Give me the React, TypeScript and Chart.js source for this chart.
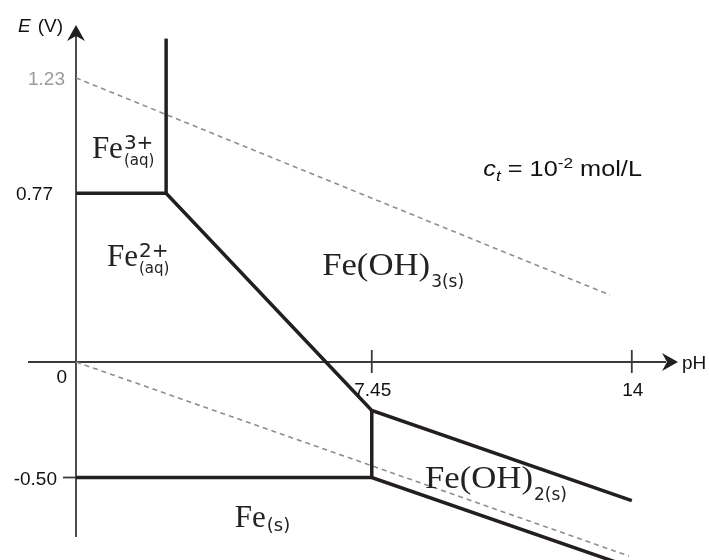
import React, { useEffect, useRef } from "react";
import { Chart, registerables } from "chart.js";

Chart.register(...registerables);

// ---- tick values and labels ----
const PH_TICKS = [7.45, 14];
const PH_TICK_LABELS = ["7.45", "14"];
const E_TICKS = [1.23, 0.73, 0, -0.5];
const E_TICK_LABELS = ["1.23", "0.77", "0", "-0.50"];

// ---- boundary lines (pH, E in V) ----
const UPPER_PH = [0, 2.27, 7.45, 14];
const UPPER_E = [0.73, 0.73, -0.21, -0.6];
const LOWER_PH = [0, 7.45, 14];
const LOWER_E = [-0.5, -0.5, -0.89];
const FE3_VERTICAL_PH = [2.27, 2.27];
const FE3_VERTICAL_E = [0.73, 1.4];
const FEOH2_VERTICAL_PH = [7.45, 7.45];
const FEOH2_VERTICAL_E = [-0.21, -0.5];

// ---- water stability lines ----
const WATER_O2_PH = [0, 13.45];
const WATER_O2_E = [1.23, 0.29];
const WATER_H2_PH = [0, 13.93];
const WATER_H2_E = [0, -0.84];

// ---- species labels ----
const SPECIES_MAIN = ["Fe", "Fe", "Fe(OH)", "Fe(OH)", "Fe"];
const SPECIES_SUP = ["3+", "2+", "", "", ""];
const SPECIES_SUB = ["(aq)", "(aq)", "3(s)", "2(s)", "(s)"];
const SPECIES_PH = [0.4, 0.78, 6.2, 8.79, 4.0];
const SPECIES_E = [0.883, 0.416, 0.377, -0.545, -0.714];

const CONC_PH = 10.26;
const CONC_E = 0.805;

// ---- layout ----
const W = 709;
const H = 560;
const PX_PER_PH = 39.7;
const PX_PER_V = 231;
const ORIGIN_X = 76;
const ORIGIN_Y = 362;
const X_MIN = -ORIGIN_X / PX_PER_PH;
const X_MAX = (W - ORIGIN_X) / PX_PER_PH;
const Y_MAX = ORIGIN_Y / PX_PER_V;
const Y_MIN = (ORIGIN_Y - H) / PX_PER_V;

const INK = "#231f20";
const AXIS = "#3a3a3a";
const DASH = "#8e8e8e";

function pts(xs: number[], ys: number[]) {
  return xs.map((x, i) => ({ x, y: ys[i] }));
}

function drawText(
  ctx: CanvasRenderingContext2D,
  s: string,
  x: number,
  y: number,
  font: string,
  color: string,
  align: "left" | "right" | "center" = "left",
  sx = 1
): number {
  ctx.save();
  ctx.font = font;
  ctx.fillStyle = color;
  ctx.textBaseline = "alphabetic";
  ctx.textAlign = "left";
  const w = ctx.measureText(s).width * sx;
  const left = align === "left" ? x : align === "right" ? x - w : x - w / 2;
  ctx.translate(left, y);
  ctx.scale(sx, 1);
  ctx.fillText(s, 0, 0);
  ctx.restore();
  return left + w;
}

function arrow(
  ctx: CanvasRenderingContext2D,
  tx: number,
  ty: number,
  dx: number,
  dy: number
) {
  const len = 16;
  const half = 9;
  const notch = 11;
  const px = -dy;
  const py = dx;
  ctx.save();
  ctx.fillStyle = INK;
  ctx.beginPath();
  ctx.moveTo(tx, ty);
  ctx.lineTo(tx - dx * len + px * half, ty - dy * len + py * half);
  ctx.lineTo(tx - dx * notch, ty - dy * notch);
  ctx.lineTo(tx - dx * len - px * half, ty - dy * len - py * half);
  ctx.closePath();
  ctx.fill();
  ctx.restore();
}

const decorPlugin = {
  id: "pourbaixDecor",
  beforeDatasetsDraw(chart: any) {
    const ctx: CanvasRenderingContext2D = chart.ctx;
    const xs = chart.scales.x;
    const ys = chart.scales.y;
    const x0 = xs.getPixelForValue(0);
    const y0 = ys.getPixelForValue(0);
    ctx.save();
    ctx.strokeStyle = AXIS;
    ctx.lineWidth = 1.8;
    ctx.beginPath();
    ctx.moveTo(28, y0);
    ctx.lineTo(666, y0);
    ctx.stroke();
    ctx.beginPath();
    ctx.moveTo(x0, 537);
    ctx.lineTo(x0, 36);
    ctx.stroke();
    PH_TICKS.forEach((v) => {
      const px = xs.getPixelForValue(v);
      ctx.beginPath();
      ctx.moveTo(px, y0 - 12);
      ctx.lineTo(px, y0 + 11);
      ctx.stroke();
    });
    const ym = ys.getPixelForValue(-0.5);
    ctx.beginPath();
    ctx.moveTo(x0 - 13, ym);
    ctx.lineTo(x0, ym);
    ctx.stroke();
    ctx.restore();

    arrow(ctx, 678, y0, 1, 0);
    arrow(ctx, x0, 25, 0, -1);
  },
  afterDatasetsDraw(chart: any) {
    const ctx: CanvasRenderingContext2D = chart.ctx;
    const xs = chart.scales.x;
    const ys = chart.scales.y;
    const x0 = xs.getPixelForValue(0);
    const y0 = ys.getPixelForValue(0);
    const sans = '"Liberation Sans", Arial, sans-serif';
    const tickFont = `19px ${sans}`;

    const eDx = [11, 23, 9, 19];
    const eDy = [7, 7, 21, 7];
    E_TICKS.forEach((v, i) => {
      const py = ys.getPixelForValue(v);
      drawText(
        ctx,
        E_TICK_LABELS[i],
        x0 - eDx[i],
        py + eDy[i],
        tickFont,
        i === 0 ? "#9a9a9a" : "#111",
        "right"
      );
    });
    PH_TICKS.forEach((v, i) => {
      const px = xs.getPixelForValue(v);
      drawText(ctx, PH_TICK_LABELS[i], px + 1, y0 + 34, tickFont, "#111", "center");
    });
    drawText(ctx, "pH", 682, y0 + 7, tickFont, "#111");
    const cx = drawText(ctx, "E", 18, 32, `italic 19px ${sans}`, "#111");
    drawText(ctx, "(V)", cx + 7, 32, tickFont, "#111");

    const serif = '"Liberation Serif", "Times New Roman", serif';
    const chem = '"DejaVu Sans", sans-serif';
    SPECIES_MAIN.forEach((m, i) => {
      const px = xs.getPixelForValue(SPECIES_PH[i]);
      const py = ys.getPixelForValue(SPECIES_E[i]);
      const isHydrox = m.length > 2;
      const end = drawText(
        ctx,
        m,
        px,
        py,
        `31px ${serif}`,
        "#222",
        "left",
        isHydrox ? 1.12 : 1
      );
      if (SPECIES_SUP[i]) {
        drawText(ctx, SPECIES_SUP[i], end + 1, py - 9, `20px ${chem}`, "#222");
        drawText(ctx, SPECIES_SUB[i], end + 1, py + 7, `15px ${chem}`, "#222");
      } else if (isHydrox) {
        drawText(ctx, SPECIES_SUB[i], end + 1, py + 12, `17px ${chem}`, "#222");
      } else {
        drawText(ctx, SPECIES_SUB[i], end + 1, py + 4, `18px ${chem}`, "#222");
      }
    });

    const cpx = xs.getPixelForValue(CONC_PH);
    const cpy = ys.getPixelForValue(CONC_E);
    const sx = 1.15;
    let p = drawText(ctx, "c", cpx, cpy, `italic 22px ${sans}`, "#111", "left", sx);
    p = drawText(ctx, "t", p, cpy + 5, `italic 15px ${sans}`, "#111", "left", sx);
    p = drawText(ctx, " = 10", p, cpy, `22px ${sans}`, "#111", "left", sx);
    p = drawText(ctx, "-2", p, cpy - 8, `15px ${sans}`, "#111", "left", sx);
    drawText(ctx, " mol/L", p, cpy, `22px ${sans}`, "#111", "left", sx);
  },
};

export default function App() {
  const ref = useRef<HTMLCanvasElement | null>(null);

  useEffect(() => {
    if (!ref.current) return;
    const solid = {
      borderColor: INK,
      borderWidth: 3.5,
      pointRadius: 0,
      tension: 0,
      fill: false,
      borderJoinStyle: "miter" as const,
      borderCapStyle: "butt" as const,
    };
    const dashed = {
      borderColor: DASH,
      borderWidth: 1.6,
      borderDash: [5, 4],
      pointRadius: 0,
      tension: 0,
      fill: false,
    };
    const chart = new Chart(ref.current, {
      type: "line",
      data: {
        datasets: [
          { label: "upper", data: pts(UPPER_PH, UPPER_E), ...solid },
          { label: "lower", data: pts(LOWER_PH, LOWER_E), ...solid },
          { label: "fe3v", data: pts(FE3_VERTICAL_PH, FE3_VERTICAL_E), ...solid },
          { label: "feoh2v", data: pts(FEOH2_VERTICAL_PH, FEOH2_VERTICAL_E), ...solid },
          { label: "O2/H2O", data: pts(WATER_O2_PH, WATER_O2_E), ...dashed },
          { label: "H+/H2", data: pts(WATER_H2_PH, WATER_H2_E), ...dashed },
        ],
      },
      options: {
        animation: false,
        responsive: false,
        devicePixelRatio: 1,
        layout: { padding: 0 },
        scales: {
          x: { type: "linear", min: X_MIN, max: X_MAX, display: false },
          y: { type: "linear", min: Y_MIN, max: Y_MAX, display: false },
        },
        plugins: {
          legend: { display: false },
          tooltip: { enabled: false },
          title: { display: false },
        },
        events: [],
      },
      plugins: [decorPlugin],
    });
    return () => chart.destroy();
  }, []);

  return (
    <div
      style={{
        position: "absolute",
        left: 0,
        top: 0,
        width: W,
        height: H,
        background: "#fff",
      }}
    >
      <canvas ref={ref} width={W} height={H} style={{ display: "block" }} />
    </div>
  );
}
